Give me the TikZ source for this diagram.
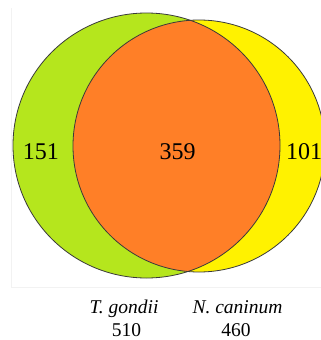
\documentclass[tikz,border=0pt]{standalone}
\usepackage{fontspec}
\setmainfont{Liberation Serif}
\newfontfamily\vennfont{Liberation Serif}
\definecolor{vgreen}{HTML}{B5E61D}
\definecolor{vyellow}{HTML}{FFF200}
\definecolor{vorange}{HTML}{FF7F27}
\definecolor{vline}{HTML}{3A3A3A}
\tikzset{
  setlabel/.style={font=\vennfont\fontsize{24}{24}\selectfont, inner sep=0pt, anchor=base},
  namelabel/.style={font=\vennfont\fontsize{19.5}{20}\selectfont\itshape, inner sep=0pt, anchor=base},
  countlabel/.style={font=\vennfont\fontsize{19.5}{20}\selectfont, inner sep=0pt, anchor=base},
  outline/.style={draw=vline, line width=0.8pt},
}
\begin{document}
\begin{tikzpicture}[x=1pt,y=-1pt]
\useasboundingbox (0,0) rectangle (321,340);
\clip (0,0) rectangle (321,340);
\fill[white] (0,0) rectangle (321,340);
% faint frame
\draw[black!5, line width=0.6pt] (11,8) -- (11,287) -- (330,287);
% fills
\fill[vgreen] (146.5,145.5) ellipse [x radius=133.5pt, y radius=132.5pt];
\fill[vyellow] (199,146) ellipse [x radius=126pt, y radius=126pt];
\begin{scope}
  \clip (146.5,145.5) ellipse [x radius=133.5pt, y radius=132.5pt];
  \fill[vorange] (199,146) ellipse [x radius=126pt, y radius=126pt];
\end{scope}
% outlines
\draw[outline] (146.5,145.5) ellipse [x radius=133.5pt, y radius=132.5pt];
\draw[outline] (199,146) ellipse [x radius=126pt, y radius=126pt];
% region counts
\node[setlabel] (left) at (41,159.3) {151};
\node[setlabel] (mid) at (177.5,159.3) {359};
\node[setlabel] (right) at (304,159.3) {101};
% set names
\node[namelabel] (tg) at (124,313) {T. gondii};
\node[countlabel] (tgn) at (126.5,336.7) {510};
\node[namelabel] (nc) at (237.5,313) {N. caninum};
\node[countlabel] (ncn) at (236,336.7) {460};
\end{tikzpicture}
\end{document}
